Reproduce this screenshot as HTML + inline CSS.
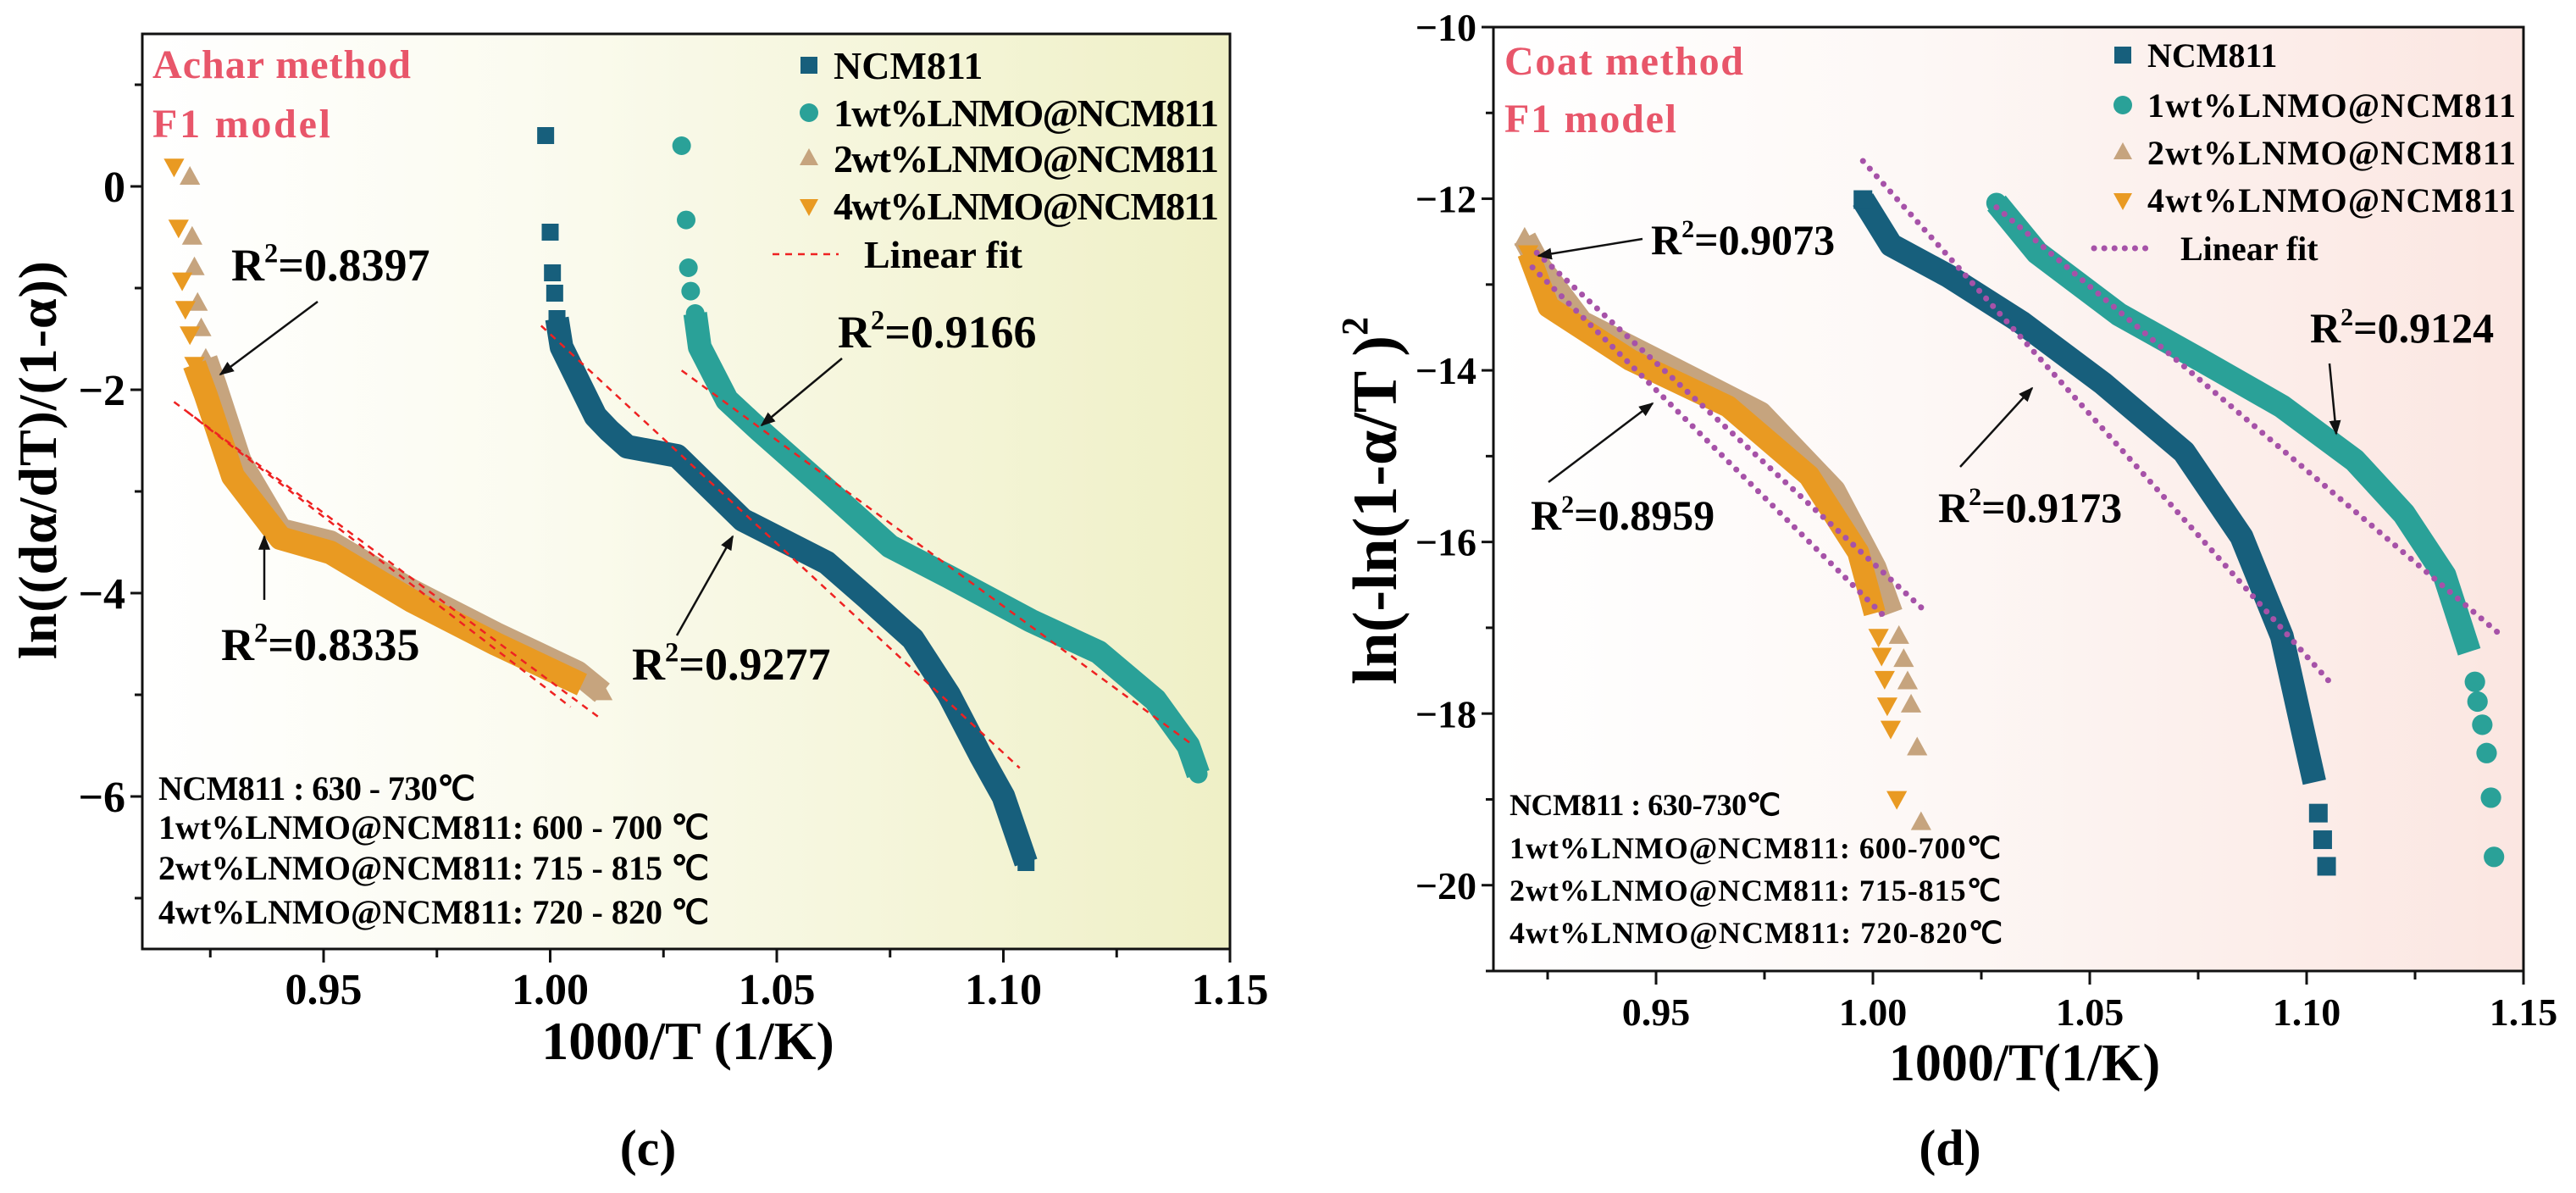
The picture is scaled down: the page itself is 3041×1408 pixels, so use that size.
<!DOCTYPE html>
<html><head><meta charset="utf-8"><style>
html,body{margin:0;padding:0;background:#fff}
svg{display:block}
text{font-family:"Liberation Serif",serif;font-weight:bold}
</style></head><body>
<svg id="s" width="3041" height="1408" viewBox="0 0 3041 1408" xmlns="http://www.w3.org/2000/svg">
<defs>
<linearGradient id="gL" x1="0" x2="1" y1="0" y2="0"><stop offset="0" stop-color="#ffffff"/><stop offset="0.35" stop-color="#fbfbf0"/><stop offset="1" stop-color="#eff0c6"/></linearGradient>
<linearGradient id="gR" x1="0" x2="1" y1="0" y2="0"><stop offset="0" stop-color="#ffffff"/><stop offset="0.4" stop-color="#fdf8f6"/><stop offset="1" stop-color="#fbe6e1"/></linearGradient>
<marker id="ah" viewBox="0 0 10 10" refX="9" refY="5" markerWidth="7" markerHeight="7" orient="auto-start-reverse"><path d="M0,1 L10,5 L0,9 z" fill="#111"/></marker>
</defs>
<g id="pL"></g>
<g id="pR"></g>
</svg>
<script>
// ---------- Panel (c) data ----------
const cNcmX=[0.9990,1.0000,1.0005,1.0010,1.0015,1.0025,1.010,1.013,1.017,1.028,1.0425,1.050,1.061,1.070,1.080,1.088,1.095,1.100,1.105];
const cNcmY=[0.50,-0.45,-0.85,-1.05,-1.30,-1.58,-2.26,-2.40,-2.56,-2.65,-3.28,-3.45,-3.70,-4.05,-4.45,-5.00,-5.60,-6.00,-6.65];
const c1wtX=[1.0290,1.0300,1.0305,1.0310,1.0320,1.033,1.039,1.046,1.061,1.075,1.088,1.106,1.121,1.1335,1.1408,1.143];
const c1wtY=[0.40,-0.33,-0.80,-1.03,-1.25,-1.58,-2.10,-2.39,-2.98,-3.54,-3.84,-4.27,-4.58,-5.05,-5.50,-5.78];
const c2wtX=[0.9205,0.9210,0.9215,0.9222,0.9230,0.9240,0.926,0.9315,0.9405,0.9515,0.9696,0.988,1.006,1.0115];
const c2wtY=[0.09,-0.50,-0.80,-1.15,-1.40,-1.70,-1.95,-2.70,-3.38,-3.50,-3.98,-4.40,-4.78,-4.98];
const c4wtX=[0.9170,0.9180,0.9188,0.9195,0.9205,0.9215,0.924,0.930,0.9405,0.9515,0.9696,0.988,1.007];
const c4wtY=[0.20,-0.40,-0.92,-1.20,-1.45,-1.75,-2.05,-2.85,-3.46,-3.60,-4.08,-4.50,-4.90];
const cFitNcm=[[0.998,-1.37],[1.1036,-5.72]];
const cFit1wt=[[1.029,-1.81],[1.142,-5.50]];
const cFit2wt=[[0.917,-2.12],[1.0107,-5.22]];
const cFit4wt=[[0.920,-2.22],[1.0045,-5.12]];
const cXTicks=[0.95,1.00,1.05,1.10,1.15];
const cXTickLabels=["0.95","1.00","1.05","1.10","1.15"];
const cXMinor=[0.925,0.975,1.025,1.075,1.125];
const cYTicks=[0,-2,-4,-6];
const cYTickLabels=["0","\u22122","\u22124","\u22126"];
const cYMinor=[1,-1,-3,-5,-7];
// ---------- Panel (d) data ----------
const dNcmX=[0.9977,1.0042,1.0174,1.0342,1.053,1.0717,1.085,1.0943,1.099,1.1018,1.1027,1.1037,1.1046];
const dNcmY=[-12.01,-12.54,-12.90,-13.44,-14.15,-14.95,-15.94,-17.10,-18.17,-18.80,-19.16,-19.47,-19.78];
const d1wtX=[1.0285,1.0379,1.0568,1.0756,1.0943,1.1111,1.1224,1.1318,1.1375,1.1388,1.1394,1.1405,1.1415,1.1425,1.1432];
const d1wtY=[-12.05,-12.63,-13.35,-13.88,-14.42,-15.05,-15.67,-16.39,-17.28,-17.63,-17.86,-18.13,-18.46,-18.98,-19.67];
const d2wtX=[0.9197,0.9234,0.9328,0.9535,0.974,0.991,1.0004,1.0042,1.006,1.0071,1.008,1.0088,1.0102,1.0111];
const d2wtY=[-12.46,-12.81,-13.44,-13.97,-14.50,-15.40,-16.30,-16.83,-17.10,-17.37,-17.63,-17.90,-18.40,-19.27];
const d4wtX=[0.9205,0.9252,0.9441,0.9666,0.9853,0.9966,1.0004,1.0013,1.0020,1.0027,1.0033,1.0041,1.0055];
const d4wtY=[-12.63,-13.26,-13.88,-14.42,-15.23,-16.12,-16.83,-17.10,-17.32,-17.59,-17.90,-18.17,-18.99];
const dFitNcm=[[0.9977,-11.56],[1.1053,-17.63]];
const dFit1wt=[[1.0285,-12.10],[1.1442,-17.06]];
const dFit2wt=[[0.9225,-12.63],[1.0117,-16.79]];
const dFit4wt=[[0.9215,-12.80],[1.0033,-16.90]];
const dXTicks=[0.95,1.00,1.05,1.10,1.15];
const dXTickLabels=["0.95","1.00","1.05","1.10","1.15"];
const dXMinor=[0.925,0.975,1.025,1.075,1.125];
const dYTicks=[-10,-12,-14,-16,-18,-20];
const dYTickLabels=["\u221210","\u221212","\u221214","\u221216","\u221218","\u221220"];
const dYMinor=[-11,-13,-15,-17,-19,-21];

const NS="http://www.w3.org/2000/svg";
const COL={ncm:"#175f7c",w1:"#2aa198",w2:"#c6a47e",w4:"#e99a22"};
function mk(tag,attrs,parent){const e=document.createElementNS(NS,tag);for(const k in attrs)e.setAttribute(k,attrs[k]);parent.appendChild(e);return e;}
function txt(parent,x,y,s,size,opts){const t=mk("text",Object.assign({x:x,y:y,"font-size":size},opts||{}),parent);t.textContent=s;return t;}

function marker(g,shape,cx,cy,r,color){
  let e;
  if(shape==="sq") e=mk("rect",{x:cx-r,y:cy-r,width:2*r,height:2*r,fill:color},g);
  else if(shape==="ci") e=mk("circle",{cx:cx,cy:cy,r:r*1.1,fill:color},g);
  else if(shape==="up") e=mk("polygon",{points:`${cx},${cy-r*1.2} ${cx+r*1.1},${cy+r*0.8} ${cx-r*1.1},${cy+r*0.8}`,fill:color},g);
  else e=mk("polygon",{points:`${cx},${cy+r*1.2} ${cx+r*1.1},${cy-r*0.8} ${cx-r*1.1},${cy-r*0.8}`,fill:color},g);
  
  
}

function panel(root,cfg){
  const {L,R,T,B,x0,x1,y0,y1}=cfg;
  const sx=v=>L+(v-x0)/(x1-x0)*(R-L);
  const sy=v=>T+(y1-v)/(y1-y0)*(B-T);
  const bg=mk("rect",{x:L,y:T,width:R-L,height:B-T,fill:cfg.bg},root);
  
  
  cfg.series.forEach(s=>{
    const g=mk("g",{},root);
    
    
    const bs=s.bandStart, be=s.x.length-s.cut;
    const pts=s.x.slice(bs,be).map((v,i)=>sx(v)+","+sy(s.y[bs+i])).join(" ");
    const pl=mk("polyline",{points:pts,fill:"none",stroke:s.color,"stroke-width":s.w,"stroke-linejoin":"round","stroke-linecap":"butt"},g);
    
    
    s.x.forEach((v,i)=>{if(i<bs+1||i>=s.x.length-s.tail)marker(g,s.shape,sx(v),sy(s.y[i]),s.r,s.color);});
  });
  cfg.fits.forEach(f=>{
    const l=mk("line",{x1:sx(f[0][0]),y1:sy(f[0][1]),x2:sx(f[1][0]),y2:sy(f[1][1]),stroke:cfg.fitColor,"stroke-width":cfg.fitW,"stroke-dasharray":cfg.fitDash,"stroke-linecap":cfg.fitCap},root);
    
    
  });
  const fr=mk("rect",{x:L,y:T,width:R-L,height:B-T,fill:"none",stroke:"#111","stroke-width":3},root);
  
  
  const ax=mk("g",{},root);
  
  
  cfg.xt.forEach((v,i)=>{mk("line",{x1:sx(v),y1:B,x2:sx(v),y2:B+16,stroke:"#111","stroke-width":3},ax);
    const t=txt(ax,sx(v),cfg.xlY,cfg.xtl[i],cfg.tickFs,{"text-anchor":"middle"});
    
    });
  cfg.xm.forEach(v=>mk("line",{x1:sx(v),y1:B,x2:sx(v),y2:B+10,stroke:"#111","stroke-width":3},ax));
  const ay=mk("g",{},root);
  
  
  cfg.yt.forEach((v,i)=>{mk("line",{x1:L-14,y1:sy(v),x2:L,y2:sy(v),stroke:"#111","stroke-width":3},ay);
    const t=txt(ay,L-20,sy(v)+cfg.tickFs*0.35,cfg.ytl[i],cfg.tickFs,{"text-anchor":"end"});
    
    });
  cfg.ym.forEach(v=>{if(v>=y0&&v<=y1)mk("line",{x1:L-9,y1:sy(v),x2:L,y2:sy(v),stroke:"#111","stroke-width":3},ay);});
}

const pL=document.getElementById("pL"),pR=document.getElementById("pR");
panel(pL,{L:168,R:1452,T:40,B:1120,x0:0.91,x1:1.15,y0:-7.5,y1:1.5,bg:"url(#gL)",
  series:[
   {name:"series-2wt-lnmo",x:c2wtX,y:c2wtY,color:COL.w2,shape:"up",r:11,w:28,bandStart:5,tail:1,cut:0},
   {name:"series-4wt-lnmo",x:c4wtX,y:c4wtY,color:COL.w4,shape:"dn",r:11,w:28,bandStart:5,tail:0,cut:0},
   {name:"series-ncm811",x:cNcmX,y:cNcmY,color:COL.ncm,shape:"sq",r:10,w:28,bandStart:4,tail:1,cut:0},
   {name:"series-1wt-lnmo",x:c1wtX,y:c1wtY,color:COL.w1,shape:"ci",r:10,w:28,bandStart:4,tail:1,cut:0}],
  fits:[cFitNcm,cFit1wt,cFit2wt,cFit4wt],fitColor:"#ee2222",fitW:2.5,fitDash:"8 7",fitCap:"butt",
  xt:cXTicks,xtl:cXTickLabels,xm:cXMinor,yt:cYTicks,ytl:cYTickLabels,ym:cYMinor,tickFs:52,xlY:1185});
panel(pR,{L:1763,R:2979,T:32,B:1146,x0:0.9125,x1:1.15,y0:-21,y1:-10,bg:"url(#gR)",
  series:[
   {name:"series-2wt-lnmo",x:d2wtX,y:d2wtY,color:COL.w2,shape:"up",r:11,w:28,bandStart:0,tail:6,cut:6},
   {name:"series-4wt-lnmo",x:d4wtX,y:d4wtY,color:COL.w4,shape:"dn",r:11,w:26,bandStart:0,tail:6,cut:6},
   {name:"series-ncm811",x:dNcmX,y:dNcmY,color:COL.ncm,shape:"sq",r:11,w:28,bandStart:0,tail:3,cut:3},
   {name:"series-1wt-lnmo",x:d1wtX,y:d1wtY,color:COL.w1,shape:"ci",r:11,w:28,bandStart:0,tail:6,cut:6}],
  fits:[dFitNcm,dFit1wt,dFit2wt,dFit4wt],fitColor:"#a652a8",fitW:7,fitDash:"0.1 12",fitCap:"round",
  xt:dXTicks,xtl:dXTickLabels,xm:dXMinor,yt:dYTicks,ytl:dYTickLabels,ym:dYMinor,tickFs:46,xlY:1210});

function label(parent,x,y,s,fs,name,opts){const t=txt(parent,x,y,s,fs,opts);return t;}
function r2(parent,x,y,val,fs){const t=mk("text",{x:x,y:y,"font-size":fs},parent);
  
  
  t.innerHTML=`R<tspan dy="${-fs*0.4}" font-size="${fs*0.6}">2</tspan><tspan dy="${fs*0.4}">=${val}</tspan>`;}
function arrow(parent,x1,y1,x2,y2){const a=mk("line",{x1:x1,y1:y1,x2:x2,y2:y2,stroke:"#111","stroke-width":2.5,"marker-end":"url(#ah)"},parent);
  
  }
function legend(parent,xm,xt,ys,fs,fitColor,fitDash,fitW,lw,fitX1,fitX2,fitTX){
  const g=mk("g",{},parent);
  
  
  const names=["NCM811","1wt%LNMO@NCM811","2wt%LNMO@NCM811","4wt%LNMO@NCM811"];
  const shapes=["sq","ci","up","dn"],cols=[COL.ncm,COL.w1,COL.w2,COL.w4];
  names.forEach((n,i)=>{marker(g,shapes[i],xm,ys[i],10,cols[i]);
    const t=label(g,xt,ys[i]+fs*0.35,n,fs,'legend-entry');if(i>0)t.setAttribute('textLength',lw);});
  mk("line",{x1:fitX1,y1:ys[4],x2:fitX2,y2:ys[4],stroke:fitColor,"stroke-width":fitW,"stroke-dasharray":fitDash,"stroke-linecap":fitW>4?"round":"butt"},g);
  label(g,fitTX,ys[4]+fs*0.35,"Linear fit",fs,'legend-entry');
}
label(pL,180,92,"Achar method",48,'method-label',{fill:"#e8566a",textLength:305});
label(pL,180,162,"F1 model",48,'model-label',{fill:"#e8566a",textLength:210});
legend(pL,955,984,[77,133,187,243,300],46,"#ee2222","8 7",2.5,455,912,990,1020);
r2(pL,273,331,"0.8397",54);r2(pL,989,410,"0.9166",54);r2(pL,261,779,"0.8335",54);r2(pL,746,802,"0.9277",54);
arrow(pL,375,356,260,442);arrow(pL,994,423,899,502);arrow(pL,312,708,312,633);arrow(pL,799,750,865,633);
[["NCM811 : 630 - 730℃",374],["1wt%LNMO@NCM811:  600 - 700 ℃",650],["2wt%LNMO@NCM811:  715 - 815 ℃",650],["4wt%LNMO@NCM811:  720 - 820 ℃",650]].forEach((l,i)=>{
  label(pL,187,[944,990,1038,1090][i],l[0],40,'temperature-range-note',{textLength:l[1]});});
label(pL,812,1250,"1000/T (1/K)",64,'x-axis-title',{"text-anchor":"middle"});
label(pL,0,0,"ln((dα/dT)/(1-α))",64,'y-axis-title',{"text-anchor":"middle",transform:"translate(66,543) rotate(-90)",textLength:470});
label(pL,765,1375,"(c)",60,'panel-label-c',{"text-anchor":"middle"});
label(pR,1776,88,"Coat method",48,'method-label',{fill:"#e8566a",textLength:282});
label(pR,1776,156,"F1 model",48,'model-label',{fill:"#e8566a",textLength:203});
legend(pR,2506,2535,[65,124,180,236,293],40,"#a652a8","0.1 12",7,435,2472,2540,2574);
r2(pR,1949,300,"0.9073",50);r2(pR,1807,625,"0.8959",50);r2(pR,2288,616,"0.9173",50);r2(pR,2727,404,"0.9124",50);
arrow(pR,1939,282,1816,302);arrow(pR,1828,569,1951,476);arrow(pR,2314,551,2399,458);arrow(pR,2750,429,2758,512);
[["NCM811 : 630-730℃",320],["1wt%LNMO@NCM811: 600-700℃",580],["2wt%LNMO@NCM811: 715-815℃",580],["4wt%LNMO@NCM811: 720-820℃",582]].forEach((l,i)=>{
  label(pR,1782,[962,1013,1063,1113][i],l[0],36,'temperature-range-note',{textLength:l[1]});});
label(pR,2390,1275,"1000/T(1/K)",62,'x-axis-title',{"text-anchor":"middle"});
const yr=mk("text",{"font-size":74,"text-anchor":"middle",transform:"translate(1648,591) rotate(-90)"},pR);


yr.innerHTML='ln(-ln(1-α/T )<tspan dy="-34" font-size="44">2</tspan>';
label(pR,2302,1375,"(d)",60,'panel-label-d',{"text-anchor":"middle"});
</script>
</body></html>
